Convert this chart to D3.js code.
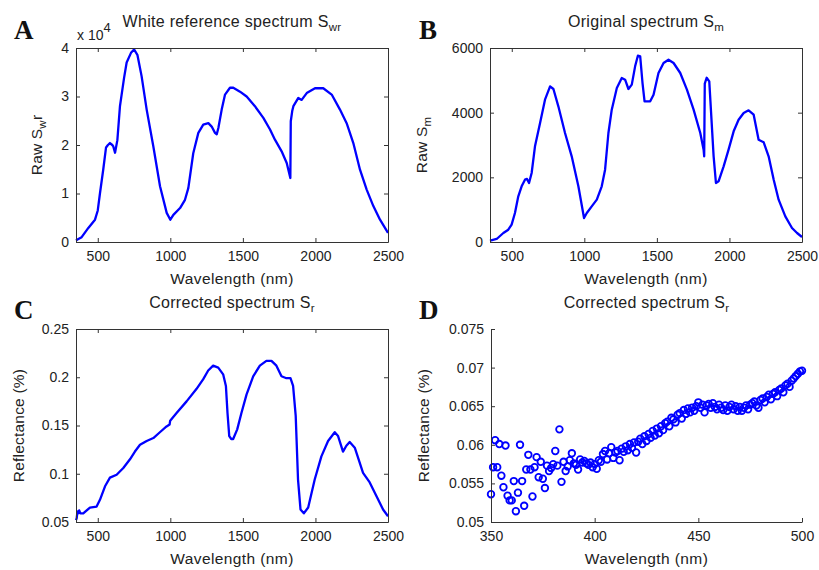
<!DOCTYPE html>
<html>
<head>
<meta charset="utf-8">
<script src="https://cdn.jsdelivr.net/npm/d3@7"></script>
<style>
  body { margin: 0; background: #fff; }
  svg { display: block; font-family: "Liberation Sans", Arial, sans-serif; }
</style>
</head>
<body>
<svg id="chart" width="819" height="570"></svg>
<script>
// Panel A - white reference spectrum (raw counts)
const wlA = [350,360,389,435,481,500,515,538,557,570,584,600,607,619,635,653,681,699,729,750,773,802,837,883,929,975,1000,1021,1067,1101,1124,1158,1193,1227,1262,1285,1308,1320,1331,1354,1377,1411,1434,1480,1526,1583,1641,1687,1721,1767,1802,1827,1830,1840,1848,1882,1905,1940,1997,2054,2112,2169,2215,2261,2307,2353,2399,2445,2500];
const swr = [300,500,1000,2900,4600,6500,10000,15000,19500,20000,20400,20000,19700,18400,21000,28000,33800,37000,39000,39700,38600,34200,27300,19700,11500,6000,4600,5600,7000,8700,11100,18300,22500,24200,24500,23800,22500,22200,23500,27300,30400,31800,31800,31000,30000,28000,25600,23200,21100,18700,16300,13200,24900,27000,28000,29700,29300,30700,31700,31700,30400,27300,24500,20400,14900,10800,7400,4600,1900];

// Panel B - original spectrum (raw counts)
const wlB = [350,357,396,442,476,499,522,545,568,591,605,619,637,660,695,729,764,787,821,867,913,959,998,1017,1051,1086,1120,1143,1166,1189,1224,1258,1281,1304,1327,1350,1369,1385,1401,1415,1454,1477,1511,1546,1580,1615,1661,1707,1753,1799,1822,1826,1830,1843,1861,1875,1891,1907,1925,1960,1994,2029,2063,2098,2132,2167,2201,2236,2270,2305,2339,2385,2431,2466,2500];
const sm = [40,52,93,278,381,536,897,1412,1722,1928,1950,1825,2134,2959,3680,4402,4814,4732,4196,3371,2649,1722,742,897,1103,1309,1722,2237,3371,4093,4763,5072,5020,4732,4866,5433,5763,5742,4917,4350,4350,4557,5227,5536,5639,5536,5227,4711,4093,3371,2856,2650,4900,5080,4969,3887,2650,1825,1876,2340,2856,3423,3783,3990,4072,3938,3165,3082,2649,1928,1309,794,433,278,155];

// Panel C - corrected spectrum (reflectance)
const wlC = [350,355,360,366,372,380,400,446,492,515,550,584,630,676,722,756,791,837,883,928,974,995,999,1043,1112,1181,1227,1261,1295,1330,1364,1383,1394,1406,1420,1433,1461,1490,1525,1571,1617,1662,1697,1731,1766,1800,1828,1846,1864,1880,1897,1920,1950,1995,2041,2087,2133,2156,2190,2213,2236,2271,2328,2374,2420,2466,2500];
const sr = [0.052,0.054,0.061,0.059,0.062,0.059,0.059,0.065,0.066,0.073,0.087,0.096,0.099,0.106,0.115,0.123,0.130,0.134,0.137,0.143,0.149,0.151,0.155,0.163,0.175,0.188,0.198,0.207,0.212,0.210,0.203,0.191,0.163,0.139,0.136,0.136,0.146,0.163,0.182,0.201,0.212,0.217,0.217,0.212,0.201,0.199,0.199,0.191,0.160,0.094,0.063,0.059,0.065,0.094,0.118,0.134,0.143,0.139,0.123,0.129,0.133,0.127,0.101,0.091,0.077,0.063,0.056];

// Panel D - corrected spectrum 350-500 nm, one sample per nm
const wlD = d3.range(350, 501);
const srD = [
  0.0536,0.0571,0.0606,0.0571,0.0601,0.0560,0.0545,0.0599,0.0534,0.0528,
  0.0528,0.0553,0.0514,0.0538,0.0600,0.0553,0.0521,0.0568,0.0587,0.0568,
  0.0533,0.0571,0.0584,0.0558,0.0578,0.0556,0.0544,0.0573,0.0566,0.0570,
  0.0575,0.0592,0.0573,0.0620,0.0552,0.0578,0.0566,0.0572,0.0580,0.0589,
  0.0576,0.0574,0.0568,0.0581,0.0577,0.0579,0.0576,0.0574,0.0577,0.0571,
  0.0575,0.0569,0.0580,0.0578,0.0588,0.0592,0.0581,0.0589,0.0597,0.0583,
  0.0590,0.0592,0.0580,0.0595,0.0591,0.0598,0.0593,0.0601,0.0596,0.0603,
  0.0590,0.0604,0.0608,0.0601,0.0611,0.0605,0.0614,0.0609,0.0618,0.0612,
  0.0621,0.0615,0.0624,0.0619,0.0628,0.0630,0.0624,0.0635,0.0633,0.0629,
  0.0639,0.0641,0.0634,0.0645,0.0640,0.0647,0.0642,0.0648,0.0644,0.0650,
  0.0655,0.0648,0.0652,0.0642,0.0651,0.0653,0.0648,0.0654,0.0649,0.0646,
  0.0652,0.0648,0.0645,0.0651,0.0644,0.0649,0.0652,0.0646,0.0650,0.0644,
  0.0649,0.0644,0.0648,0.0651,0.0646,0.0652,0.0654,0.0656,0.0651,0.0648,
  0.0658,0.0660,0.0655,0.0662,0.0665,0.0659,0.0666,0.0668,0.0663,0.0671,
  0.0673,0.0668,0.0677,0.0679,0.0675,0.0683,0.0686,0.0689,0.0692,0.0695,
  0.0696];

// tick values
const xTicksWide = [500,1000,1500,2000,2500];
const xTicksD = [350,400,450,500];
const yTicksA = [0,10000,20000,30000,40000];
const yTicksB = [0,2000,4000,6000];
const yTicksC = [0.05,0.1,0.15,0.2,0.25];
const yTicksD = [0.05,0.055,0.06,0.065,0.07,0.075];

const svg = d3.select('#chart');
const blue = '#0000ff';
const axisColor = '#333';
const textColor = '#222';

// Draw axes for one panel; box adds top and right axes
const drawAxes = (p) => {
    const g = svg.append('g');
    const x = p.x, y = p.y;
    const bottom = g.append('g')
        .attr('transform', `translate(0,${p.y1})`)
        .call(d3.axisBottom(x).tickValues(p.xt).tickSizeInner(-4).tickSizeOuter(0).tickPadding(9).tickFormat(d3.format('d')));
    g.append('g')
        .attr('transform', `translate(${p.x0},0)`)
        .call(d3.axisLeft(y).tickValues(p.yt).tickSizeInner(-4).tickSizeOuter(0).tickPadding(7).tickFormat(p.yf));
    if (p.box) {
        g.append('g').attr('transform', `translate(0,${p.y0})`)
            .call(d3.axisTop(x).tickValues(p.xt).tickSizeInner(-4).tickSizeOuter(0).tickFormat(''));
        g.append('g').attr('transform', `translate(${p.x1},0)`)
            .call(d3.axisRight(y).tickValues(p.yt).tickSizeInner(-4).tickSizeOuter(0).tickFormat(''));
    }
    g.selectAll('.domain, .tick line').attr('stroke', axisColor).attr('stroke-width', 1);
    g.selectAll('.tick text').attr('fill', textColor).attr('font-size', 14)
        .attr('font-family', '"Liberation Sans", Arial, sans-serif');
    bottom.selectAll('.tick text').attr('dy', '0.71em');
    // x label
    svg.append('text')
        .attr('x', (p.x0 + p.x1) / 2).attr('y', p.y1 + 42)
        .attr('text-anchor', 'middle').attr('font-size', 15.5).attr('letter-spacing', 0.4)
        .attr('fill', textColor)
        .text('Wavelength (nm)');
    // panel letter
    svg.append('text')
        .attr('x', p.lx).attr('y', p.ly)
        .attr('font-family', '"Liberation Serif", "Times New Roman", serif')
        .attr('font-weight', 'bold').attr('font-size', 27).attr('fill', '#111')
        .text(p.letter);
};

// text with a subscript part
const subText = (sel, main, sub, after) => {
    sel.append('tspan').text(main);
    sel.append('tspan').attr('dy', 4).attr('font-size', 11.5).text(sub);
    if (after) sel.append('tspan').attr('dy', -4).text(after);
};

const panels = [
    {letter: 'A', x0: 76, x1: 388, y0: 48, y1: 242, xd: [350, 2500], yd: [0, 40000], xt: xTicksWide, yt: yTicksA,
     yf: d => d / 1e4, box: true, lx: 14, ly: 39, wl: wlA, v: swr,
     title: ['White reference spectrum S', 'wr'], ylab: ['Raw S', 'w', 'r'], ylx: 42},
    {letter: 'B', x0: 490, x1: 802, y0: 48, y1: 242, xd: [350, 2500], yd: [0, 6000], xt: xTicksWide, yt: yTicksB,
     yf: d3.format('d'), box: true, lx: 419, ly: 39, wl: wlB, v: sm,
     title: ['Original spectrum S', 'm'], ylab: ['Raw S', 'm'], ylx: 427},
    {letter: 'C', x0: 76, x1: 388, y0: 329, y1: 522, xd: [350, 2500], yd: [0.05, 0.25], xt: xTicksWide, yt: yTicksC,
     yf: d3.format('~g'), box: true, lx: 14, ly: 319, wl: wlC, v: sr,
     title: ['Corrected spectrum S', 'r'], ylab: ['Reflectance (%)'], ylx: 24},
    {letter: 'D', x0: 491, x1: 802, y0: 329, y1: 522, xd: [350, 500], yd: [0.05, 0.075], xt: xTicksD, yt: yTicksD,
     yf: d3.format('~g'), box: false, lx: 419, ly: 319, wl: wlD, v: srD, scatter: true,
     title: ['Corrected spectrum S', 'r'], ylab: ['Reflectance (%)'], ylx: 429}
];

panels.forEach(p => {
    p.x = d3.scaleLinear().domain(p.xd).range([p.x0, p.x1]);
    p.y = d3.scaleLinear().domain(p.yd).range([p.y1, p.y0]);
    const pts = p.wl.map((w, i) => [w, p.v[i]]);

    if (p.scatter) {
        svg.append('g').selectAll('circle')
            .data(pts)
            .enter()
            .append('circle')
            .attr('cx', d => p.x(d[0]))
            .attr('cy', d => p.y(d[1]))
            .attr('r', 3.3)
            .attr('fill', 'none')
            .attr('stroke', blue)
            .attr('stroke-width', 1.8);
    } else {
        const line = d3.line().x(d => p.x(d[0])).y(d => p.y(d[1]));
        svg.append('path')
            .datum(pts)
            .attr('d', line)
            .attr('fill', 'none')
            .attr('stroke', blue)
            .attr('stroke-width', 2.3)
            .attr('stroke-linejoin', 'round');
    }

    drawAxes(p);

    // title
    const t = svg.append('text')
        .attr('x', (p.x0 + p.x1) / 2).attr('y', p.y0 - 21)
        .attr('text-anchor', 'middle').attr('font-size', 16).attr('letter-spacing', 0.3)
        .attr('fill', textColor);
    subText(t, p.title[0], p.title[1]);

    // y label
    const yl = svg.append('text')
        .attr('transform', `translate(${p.ylx},${(p.y0 + p.y1) / 2}) rotate(-90)`)
        .attr('text-anchor', 'middle').attr('font-size', 15.5).attr('letter-spacing', 0.2)
        .attr('fill', textColor);
    if (p.ylab.length > 1) subText(yl, p.ylab[0], p.ylab[1], p.ylab[2]);
    else yl.text(p.ylab[0]);
});

// exponent label of panel A
const ex = svg.append('text').attr('x', 77).attr('y', 40).attr('font-size', 14).attr('fill', textColor);
ex.append('tspan').text('x 10');
ex.append('tspan').attr('dy', -8).attr('font-size', 13).text('4');
</script>
</body>
</html>
